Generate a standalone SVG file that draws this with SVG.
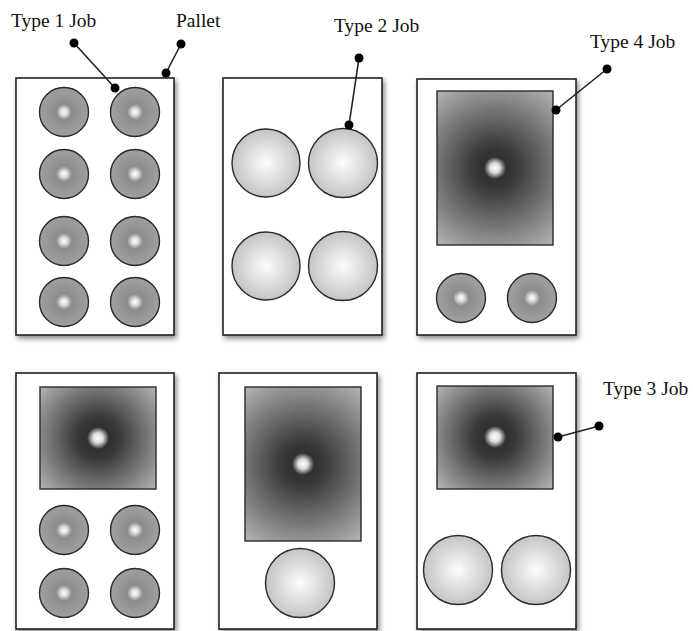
<svg xmlns="http://www.w3.org/2000/svg" width="693" height="631" viewBox="0 0 693 631">
<defs>
<filter id="sh" x="-10%" y="-10%" width="130%" height="130%"><feDropShadow dx="2" dy="3" stdDeviation="2.5" flood-color="#000" flood-opacity="0.45"/></filter>
<radialGradient id="g1" cx="0.5" cy="0.5" r="0.5"><stop offset="0" stop-color="#fff"/><stop offset="0.12" stop-color="#e4e4e4"/><stop offset="0.32" stop-color="#8c8c8c"/><stop offset="1" stop-color="#a0a0a0"/></radialGradient>
<radialGradient id="g2" cx="0.5" cy="0.5" r="0.5"><stop offset="0" stop-color="#fcfcfc"/><stop offset="1" stop-color="#c4c4c4"/></radialGradient>
<radialGradient id="gA" gradientUnits="userSpaceOnUse" cx="495" cy="168" r="96"><stop offset="0" stop-color="#fff"/><stop offset="0.05" stop-color="#dcdcdc"/><stop offset="0.115" stop-color="#303030"/><stop offset="0.22" stop-color="#383838"/><stop offset="1" stop-color="#b4b4b4"/></radialGradient>
<radialGradient id="gB" gradientUnits="userSpaceOnUse" cx="98" cy="438" r="77"><stop offset="0" stop-color="#fff"/><stop offset="0.065" stop-color="#dcdcdc"/><stop offset="0.143" stop-color="#303030"/><stop offset="0.27" stop-color="#383838"/><stop offset="1" stop-color="#b4b4b4"/></radialGradient>
<radialGradient id="gC" gradientUnits="userSpaceOnUse" cx="303" cy="464" r="96"><stop offset="0" stop-color="#fff"/><stop offset="0.05" stop-color="#dcdcdc"/><stop offset="0.115" stop-color="#303030"/><stop offset="0.22" stop-color="#383838"/><stop offset="1" stop-color="#b4b4b4"/></radialGradient>
<radialGradient id="gD" gradientUnits="userSpaceOnUse" cx="495" cy="437" r="77"><stop offset="0" stop-color="#fff"/><stop offset="0.065" stop-color="#dcdcdc"/><stop offset="0.143" stop-color="#303030"/><stop offset="0.27" stop-color="#383838"/><stop offset="1" stop-color="#b4b4b4"/></radialGradient>
<style>
.pal{fill:#fff;stroke:#222;stroke-width:1.6;filter:url(#sh)}
.j1{fill:url(#g1);stroke:#2a2a2a;stroke-width:1.4}
.j2{fill:url(#g2);stroke:#2a2a2a;stroke-width:1.4}
.j3{stroke:#2a2a2a;stroke-width:1.4}
.lbl{font-family:"Liberation Serif","Times New Roman",serif;font-size:19.5px;fill:#111}
.ln{stroke:#222;stroke-width:1.6;fill:none}
.dot{fill:#000}
</style>
</defs>
<g id="pallet1">
<rect class="pal" x="16" y="78" width="158" height="257"/>
<circle class="j1" cx="64" cy="112" r="24.5"/><circle class="j1" cx="135" cy="112" r="24.5"/>
<circle class="j1" cx="64" cy="174" r="24.5"/><circle class="j1" cx="135" cy="174" r="24.5"/>
<circle class="j1" cx="64" cy="241" r="24.5"/><circle class="j1" cx="135" cy="241" r="24.5"/>
<circle class="j1" cx="64" cy="302" r="24.5"/><circle class="j1" cx="135" cy="302" r="24.5"/>
</g>
<g id="pallet2">
<rect class="pal" x="223" y="78" width="159" height="257"/>
<circle class="j2" cx="266" cy="163" r="34"/><circle class="j2" cx="343" cy="163" r="34.5"/>
<circle class="j2" cx="266" cy="266" r="34"/><circle class="j2" cx="343" cy="266" r="34.5"/>
</g>
<g id="pallet3">
<rect class="pal" x="417" y="79" width="159" height="256"/>
<rect class="j3" fill="url(#gA)" x="437" y="91" width="116" height="154"/>
<circle class="j1" cx="461" cy="298" r="24.5"/><circle class="j1" cx="532" cy="298" r="24.5"/>
</g>
<g id="pallet4">
<rect class="pal" x="16" y="373" width="158" height="256"/>
<rect class="j3" fill="url(#gB)" x="40" y="387" width="116" height="102"/>
<circle class="j1" cx="64" cy="530" r="24.5"/><circle class="j1" cx="135" cy="530" r="24.5"/>
<circle class="j1" cx="64" cy="593" r="24.5"/><circle class="j1" cx="135" cy="593" r="24.5"/>
</g>
<g id="pallet5">
<rect class="pal" x="219" y="373" width="158" height="256"/>
<rect class="j3" fill="url(#gC)" x="245" y="387" width="116" height="154"/>
<circle class="j2" cx="300" cy="583" r="34.5"/>
</g>
<g id="pallet6">
<rect class="pal" x="417" y="373" width="159" height="256"/>
<rect class="j3" fill="url(#gD)" x="437" y="386" width="116" height="103"/>
<circle class="j2" cx="458" cy="570" r="34.5"/><circle class="j2" cx="536" cy="570" r="34.5"/>
</g>
<g id="connectors">
<line class="ln" x1="74" y1="43" x2="115" y2="88"/><circle class="dot" cx="74" cy="43" r="4.5"/><circle class="dot" cx="115" cy="88" r="4.5"/>
<line class="ln" x1="181" y1="44" x2="166" y2="73"/><circle class="dot" cx="181" cy="44" r="4.5"/><circle class="dot" cx="166" cy="73" r="4.5"/>
<line class="ln" x1="359" y1="58" x2="349" y2="125"/><circle class="dot" cx="359" cy="58" r="4.5"/><circle class="dot" cx="349" cy="125" r="4.5"/>
<line class="ln" x1="607" y1="69" x2="556" y2="110"/><circle class="dot" cx="607" cy="69" r="4.5"/><circle class="dot" cx="556" cy="110" r="4.5"/>
<line class="ln" x1="599" y1="426" x2="558" y2="437"/><circle class="dot" cx="599" cy="426" r="4.5"/><circle class="dot" cx="558" cy="437" r="4.5"/>
</g>
<g id="labels">
<text class="lbl" x="11" y="27">Type 1 Job</text>
<text class="lbl" x="176" y="27">Pallet</text>
<text class="lbl" x="334" y="32">Type 2 Job</text>
<text class="lbl" x="590" y="48">Type 4 Job</text>
<text class="lbl" x="603" y="395">Type 3 Job</text>
</g>
</svg>
